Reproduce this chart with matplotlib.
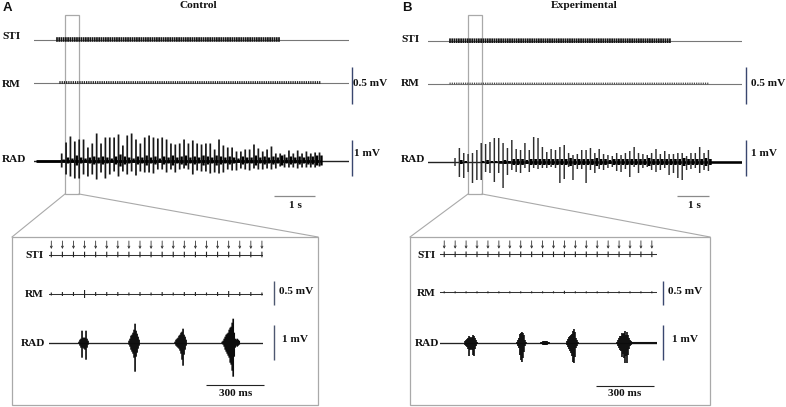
import matplotlib
matplotlib.use("Agg")
import matplotlib.pyplot as plt
from matplotlib.patches import Rectangle

W, H = 786, 407
SERIF = "Liberation Serif"
SANS = "Liberation Sans"

# ---------- data: overview RAD spikes (amplitude unit = 1/36 mV) ----------
a_rad_up = [7,18,24,19,21,21,13,17,27,17,23,23,23,26,15,25,27,21,17,23,25,23,22,23,21,17,16,17,21,17,
            20,17,16,17,17,11,21,15,13,13,9,9,11,11,16,12,9,11,14,7,7,6,10,7,10,7,9,7,8,8]
a_rad_dn = [7,14,16,18,18,14,16,14,19,12,18,14,11,16,11,14,11,15,11,12,12,13,9,9,12,9,12,9,8,9,
            14,10,11,11,13,12,13,12,9,10,10,8,9,10,8,9,9,8,9,8,6,7,7,7,8,7,7,7,7,6]
a_rad_small = [1,3,2,5,3,2,3,4,3,4,3,2,4,6,4,3,2,4,3,5,3,4,2,4,3,5,3,4,5,3,
               4,3,5,4,3,5,4,3,4,3,2,4,3,3,5,3,4,3,4,3,5,3,4,3,4,3,4,4,5,5]
b_rad_up = [4,14,9,8,9,12,19,18,20,24,24,19,14,22,13,12,19,12,25,24,15,10,13,12,15,17,9,7,8,
            12,12,14,9,13,8,7,6,9,7,9,11,15,9,8,7,9,13,8,11,8,8,9,9,6,9,9,15,9,12]
b_rad_dn = [4,15,16,10,21,18,18,10,11,20,11,26,13,8,10,11,6,10,6,7,6,6,5,6,21,17,5,18,7,
            7,21,8,11,7,8,6,5,9,10,7,15,5,11,6,5,8,10,8,6,13,11,16,18,8,7,6,11,8,9]
b_rad_small = [0,2,1,0,0,0,1,2,1,1,1,2,1,3,3,3,2,3,3,3,3,3,3,3,3,3,4,3,3,3,
               3,3,4,3,3,2,3,3,3,3,3,3,3,3,4,3,3,3,3,3,3,3,4,3,3,3,3,4,3]

# timing of the overview sweeps (seconds)
a_sweep_s, b_sweep_s = 7.875, 9.81
a_rad_first, a_rad_period = 0.6925, 0.10925
b_rad_first, b_rad_period = 0.844, 0.1365
a_sti_on, a_sti_off, a_sti_period = 0.575, 6.125, 0.0555
b_sti_on, b_sti_off, b_sti_period = 0.6875, 7.625, 0.0694
a_rm_on, a_rm_off = 0.65, 7.17
b_rm_on, b_rm_off = 0.69, 8.80

# ---------- data: expanded sweeps (ms) ----------
a_zoom_ms, b_zoom_ms = 1112, 1128
a_tick_first, a_tick_period = 12, 57.6
b_tick_first, b_tick_period = 22, 56.8
n_ticks = 20
a_rm_zoom = [1.5,2,2,4,2,2,2,1.5,2,1.5,2,1.5,2,2,1.5,2,3,2,2,1.5]
b_rm_zoom = [1,1,1,1,1,1,1,1,1,1,1,1.5,1,1,1,1,1,1,1,1]
column_ms = 5.2
a_burst_start = [156, 416, 655, 900]
a_burst_up = [[1,3,4,12,5,5,5,12,4,2],
              [2,4,7,8,10,13,19,12,9,6,3],
              [1,3,4,5,7,8,10,11,14,8,6,3],
              [1,2,4,6,8,9,10,13,15,16,20,24,10,4,3,4,3,2]]
a_burst_dn = [[1,3,5,15,5,6,7,17,5,2],
              [2,4,7,9,11,15,29,14,10,6,3],
              [1,3,4,5,6,8,11,17,23,12,7,3],
              [1,2,4,7,9,11,13,15,20,22,28,34,14,5,3,4,3,2]]
b_burst_start = [130, 400, 525, 660, 920]
b_burst_up = [[2,3,4,5,7,6,5,6,8,7,5,3,1],
              [1,3,5,9,10,11,10,8,3,1],
              [1,1,2,2,2,2,2,1,1],
              [2,4,6,7,8,9,12,14,11,5,3,1],
              [1,3,5,7,7,10,9,10,12,8,11,8,5,3,2,1]]
b_burst_dn = [[2,3,4,6,13,7,6,7,12,13,6,3,1],
              [1,3,5,12,17,19,15,9,3,1],
              [1,1,2,2,2,2,2,1,1],
              [2,4,6,8,10,13,19,20,14,5,3,1],
              [1,3,5,7,8,14,11,15,20,13,20,12,6,3,2,1]]

labels_traces = ["STI", "RM", "RAD"]
panel_letters = ["A", "B"]
panel_titles = ["Control", "Experimental"]
bar_rm, bar_rad, bar_time, bar_zoom = "0.5 mV", "1 mV", "1 s", "300 ms"

# ---------- figure ----------
fig = plt.figure(figsize=(W / 100, H / 100), dpi=100)
bg = fig.add_axes([0, 0, 1, 1])
bg.set_xlim(0, W)
bg.set_ylim(H, 0)
bg.axis("off")

GREY = "#a9a9a9"
NAVY = "#39476f"
SLATE = "#4d5770"


def trace_ax(x0, x1, yc, half, xmax):
    ax = fig.add_axes([x0 / W, 1 - (yc + half) / H, (x1 - x0) / W, 2 * half / H])
    ax.set_xlim(0, xmax)
    ax.set_ylim(-half, half)
    ax.axis("off")
    ax.patch.set_alpha(0)
    return ax


def txt(x, y, s, size=8.1, ha="left", family=SERIF):
    bg.text(x, y, s, fontsize=size, fontweight="bold", family=family,
            ha=ha, va="center", color="#111111")


def spikes(a, xs, lo, hi, color, lw):
    coll = a.vlines(xs, lo, hi, color=color, lw=lw)
    coll.set_snap(False)
    return coll


def overview(x0, x1, y_sti, y_rm, y_rad, xmax, sti, rm, rad, rm_style):
    on, off, per = sti
    a = trace_ax(x0, x1, y_sti, 6, xmax)
    a.plot([0, xmax], [0, 0], color="#777777", lw=0.8)
    n = int((off - on) / per) + 1
    spikes(a, [on + i * per for i in range(n)], -2.3, 2.3, "#141414", 1.25)

    on2, off2 = rm
    a = trace_ax(x0, x1, y_rm, 6, xmax)
    a.plot([0, xmax], [0, 0], color="#777777", lw=0.8)
    n = int((off2 - on2) / per) + 1
    spikes(a, [on2 + i * per for i in range(n)], -rm_style[0], rm_style[0], rm_style[1], rm_style[2])

    first, period, up, dn, small, thick_from, thick_to, thick_lw, spike_col, spike_lw, small_lw = rad
    a = trace_ax(x0, x1, y_rad, 40, xmax)
    a.plot([0, xmax], [0, 0], color="#222222", lw=1.0)
    a.plot([thick_from, thick_to], [0, 0], color="black", lw=thick_lw, solid_capstyle="butt")
    ts = [first + i * period for i in range(len(up))]
    spikes(a, ts, [-d for d in dn], up, spike_col, spike_lw)
    spikes(a, [t + period * 0.45 for t in ts], [-s for s in small], small, "black", small_lw)


overview(34, 349, 39.5, 82.5, 160.5, a_sweep_s,
         (a_sti_on, a_sti_off, a_sti_period), (a_rm_on, a_rm_off),
         (a_rad_first, a_rad_period, a_rad_up, a_rad_dn, a_rad_small, 0.05, 7.15, 2.0, "#181818", 1.25, 1.7),
         (1.4, "#222222", 0.9))
overview(428, 742, 40.7, 83.5, 162, b_sweep_s,
         (b_sti_on, b_sti_off, b_sti_period), (b_rm_on, b_rm_off),
         (b_rad_first, b_rad_period, b_rad_up, b_rad_dn, b_rad_small, 2.2, 9.81, 1.8, "#2e2e2e", 1.05, 1.9),
         (0.9, "#444444", 0.8))


def zoom_traces(x0, x1, y_sti, y_rm, y_rad, xmax, first, period, rm_vals, starts, ups, dns, tail):
    ticks = [first + i * period for i in range(n_ticks)]
    a = trace_ax(x0, x1, y_sti, 16, xmax)
    a.plot([0, xmax], [0, 0], color="#333333", lw=0.75)
    spikes(a, ticks, -2.8, 2.8, "#222222", 0.8)
    for t in ticks:
        a.annotate("", xy=(t, 5.5), xytext=(t, 13.5),
                   arrowprops=dict(arrowstyle="->", lw=0.6, color="#333333",
                                   mutation_scale=3.5, shrinkA=0, shrinkB=0))
    a = trace_ax(x0, x1, y_rm, 7, xmax)
    a.plot([0, xmax], [0, 0], color="#333333", lw=0.75)
    spikes(a, ticks, [-v for v in rm_vals], rm_vals, "#222222", 0.8)
    a = trace_ax(x0, x1, y_rad, 38, xmax)
    a.plot([0, xmax], [0, 0], color="#222222", lw=0.95)
    if tail:
        a.plot(tail, [0, 0], color="#111111", lw=1.5)
    for s, up, dn in zip(starts, ups, dns):
        ts = [s + i * column_ms for i in range(len(up))]
        spikes(a, ts, [-d for d in dn], up, "#0c0c0c", 1.2)


zoom_traces(49, 263, 254.5, 294, 342.7, a_zoom_ms, a_tick_first, a_tick_period,
            a_rm_zoom, a_burst_start, a_burst_up, a_burst_dn, None)
zoom_traces(440, 657, 254.3, 292.3, 343, b_zoom_ms, b_tick_first, b_tick_period,
            b_rm_zoom, b_burst_start, b_burst_up, b_burst_dn, (1000, 1128))

# highlight windows, connectors and inset frames
for (hx0, hx1, bx0, bx1) in [(65, 79, 12, 318), (468, 482, 410, 710)]:
    bg.add_patch(Rectangle((hx0, 15), hx1 - hx0, 179, fill=False, ec=GREY, lw=0.9))
    bg.add_patch(Rectangle((bx0, 237), bx1 - bx0, 168, fill=False, ec=GREY, lw=0.9))
    bg.plot([hx0, bx0], [194, 237], color=GREY, lw=0.8)
    bg.plot([hx1, bx1], [194, 237], color=GREY, lw=0.8)

# scale bars
for x, y0, y1, c, lw in [(351.7, 66.7, 103.5, NAVY, 1.0), (351.7, 140, 176, NAVY, 1.0),
                         (746.3, 66.7, 103.5, NAVY, 1.0), (746.3, 140, 176, NAVY, 1.0),
                         (274, 281, 305, SLATE, 1.0), (274, 325, 360, SLATE, 1.0),
                         (663.3, 281, 305, NAVY, 1.0), (663.3, 325, 360, NAVY, 1.0)]:
    bg.plot([x, x], [y0, y1], color=c, lw=lw, solid_capstyle="butt")
for x0, x1, y, c, lw in [(274, 314.5, 196, "#8a8a8a", 0.9), (677, 709, 196, "#8a8a8a", 0.9),
                         (206, 263.5, 385, "#222222", 0.8), (596, 654, 385.7, "#222222", 0.8)]:
    bg.plot([x0, x1], [y, y], color=c, lw=lw, solid_capstyle="butt")

# text
txt(3, 8, panel_letters[0], 9.5, family=SANS)
txt(402, 8, panel_letters[1], 9.5, family=SANS)
txt(198.7, 5, panel_titles[0], 8.2, ha="center")
txt(584.7, 5, panel_titles[1], 8.2, ha="center")
for x, ys in [(2, (36.7, 84.3, 159)), (401, (39, 84, 159))]:
    for s, y in zip(labels_traces, ys):
        txt(x, y, s)
txt(353, 83.3, bar_rm)
txt(354, 153, bar_rad)
txt(751, 84, bar_rm)
txt(751, 153, bar_rad)
txt(295, 206, bar_time, ha="center")
txt(694.7, 206, bar_time, ha="center")
for x_right, ys in [((43.5, 43.5, 45), (255.5, 294.5, 344)),
                    ((436, 436, 439), (255.7, 294, 344))]:
    for s, xr, y in zip(labels_traces, x_right, ys):
        txt(xr, y, s, ha="right")
txt(279, 291, bar_rm)
txt(282, 339, bar_rad)
txt(668, 291, bar_rm)
txt(672, 339, bar_rad)
txt(236, 394, bar_zoom, ha="center")
txt(625, 394, bar_zoom, ha="center")

fig.savefig("out.png", dpi=100)
